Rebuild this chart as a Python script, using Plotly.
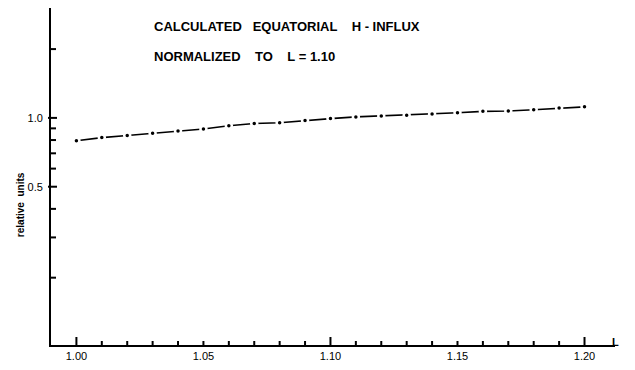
import plotly.graph_objects as go

L_values = [1.00, 1.01, 1.02, 1.03, 1.04, 1.05, 1.06, 1.07, 1.08, 1.09, 1.10,
            1.11, 1.12, 1.13, 1.14, 1.15, 1.16, 1.17, 1.18, 1.19, 1.20]
influx = [0.794, 0.820, 0.837, 0.856, 0.877, 0.894, 0.924, 0.945, 0.952, 0.974, 0.993,
          1.010, 1.020, 1.027, 1.040, 1.054, 1.068, 1.072, 1.086, 1.104, 1.118]

x_label_ticks = [1.00, 1.05, 1.10, 1.15, 1.20]
x_minor_ticks = [1.00, 1.01, 1.02, 1.03, 1.04, 1.05, 1.06, 1.07, 1.08, 1.09, 1.10,
                 1.11, 1.12, 1.13, 1.14, 1.15, 1.16, 1.17, 1.18, 1.19, 1.20]
x_long_ticks = [1.00, 1.10, 1.20]
y_label_ticks = [0.5, 1.0]
y_minor_ticks = [0.2, 0.3, 0.4, 0.6, 0.7, 0.8, 0.9, 2.0]

title_lines = ["CALCULATED   EQUATORIAL    H - INFLUX", "NORMALIZED    TO    L = 1.10"]

FONT = "Liberation Sans"
W, H = 635, 370
ML, MR, MT, MB = 51, 20, 8, 21
PW, PH = W - ML - MR, H - MT - MB


def px_x(p):
    return (p - ML) / PW


def px_y(p):
    return (H - MB - p) / PH


fig = go.Figure()
fig.add_trace(go.Scatter(
    x=L_values, y=influx, mode="lines+markers",
    line=dict(color="black", width=1.6),
    marker=dict(color="black", size=6, line=dict(color="white", width=2.5)),
    showlegend=False, hoverinfo="skip"))

fig.update_layout(
    width=W, height=H,
    margin=dict(l=ML, r=MR, t=MT, b=MB),
    paper_bgcolor="white", plot_bgcolor="white",
    font=dict(family=FONT, color="black"),
    xaxis=dict(
        range=[0.990, 1.212], showgrid=False, zeroline=False,
        showline=True, linecolor="black", linewidth=1.8,
        tickmode="array", tickvals=x_label_ticks, tickformat=".2f", ticks="",
        tickfont=dict(size=11, family=FONT, color="black"),
    ),
    yaxis=dict(
        type="log", range=[-0.9935, 0.4808], showgrid=False, zeroline=False,
        showline=True, linecolor="black", linewidth=1.8,
        tickmode="array", tickvals=y_label_ticks, ticktext=["0.5", "1.0"], ticks="",
        ticklabelstandoff=4,
        tickfont=dict(size=11, family=FONT, color="black"),
    ),
)

tick_line = dict(color="black", width=2)
for xv in x_minor_ticks:
    ln = 8 if xv in x_long_ticks else 4
    fig.add_shape(type="line", xref="x", yref="paper", ysizemode="pixel", yanchor=0,
                  x0=xv, x1=xv, y0=0, y1=ln, line=tick_line)
for yv in y_minor_ticks:
    fig.add_shape(type="line", xref="paper", yref="y", xsizemode="pixel", xanchor=0,
                  x0=0, x1=5, y0=yv, y1=yv, line=tick_line)
for yv in y_label_ticks:
    fig.add_shape(type="line", xref="paper", yref="y", xsizemode="pixel", xanchor=0,
                  x0=-3, x1=6, y0=yv, y1=yv, line=tick_line)

fig.add_annotation(text="<b>relative  units</b>", x=px_x(13), y=px_y(207), xref="paper", yref="paper",
                   showarrow=False, textangle=-90, font=dict(size=10, family=FONT, color="black"))
fig.add_annotation(text="<b>" + title_lines[0] + "</b>", x=px_x(152), y=px_y(17), xref="paper", yref="paper",
                   xanchor="left", showarrow=False, font=dict(size=13, family=FONT, color="black"))
fig.add_annotation(text="<b>" + title_lines[1] + "</b>", x=px_x(152), y=px_y(47), xref="paper", yref="paper",
                   xanchor="left", showarrow=False, font=dict(size=13, family=FONT, color="black"))
fig.add_annotation(text="<b>L</b>", x=px_x(621), y=px_y(354), xref="paper", yref="paper",
                   showarrow=False, font=dict(size=11, family=FONT, color="black"))

fig.write_html("out.html")
